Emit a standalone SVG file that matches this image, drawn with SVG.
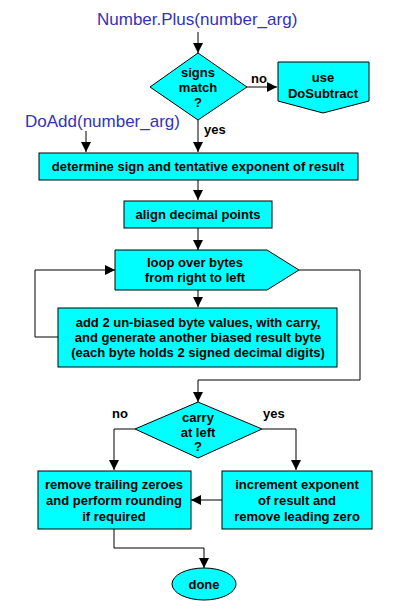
<svg xmlns="http://www.w3.org/2000/svg" width="400" height="610" viewBox="0 0 400 610">
<style>
.n{fill:#00ffff;stroke:#000;stroke-width:1}
.t{font-family:"Liberation Sans",Arial,sans-serif;font-weight:bold;font-size:13px;fill:#000;text-anchor:middle}
.l{font-family:"Liberation Sans",Arial,sans-serif;font-weight:bold;font-size:13px;fill:#000}
.e{font-family:"Liberation Sans",Arial,sans-serif;font-size:17px;fill:#3333bb}
.c{fill:none;stroke:#000;stroke-width:1}
</style>
<defs>
<marker id="a" viewBox="0 0 10 10" refX="10" refY="5" markerWidth="10" markerHeight="10" markerUnits="userSpaceOnUse" orient="auto">
<path d="M0,0L10,5L0,10z" fill="#000"/>
</marker>
</defs>
<rect width="400" height="610" fill="#fff"/>
<g id="entry1"><text class="e" x="97" y="25">Number.Plus(number_arg)</text></g>
<g id="entry2"><text class="e" x="25" y="127">DoAdd(number_arg)</text></g>
<g id="connectors">
<path class="c" d="M198,32V53" marker-end="url(#a)"/>
<path class="c" d="M247,87H277" marker-end="url(#a)"/>
<path class="c" d="M198,120V152" marker-end="url(#a)"/>
<path class="c" d="M86,131V152" marker-end="url(#a)"/>
<path class="c" d="M198,180V200" marker-end="url(#a)"/>
<path class="c" d="M198,228V250" marker-end="url(#a)"/>
<path class="c" d="M198,290V307" marker-end="url(#a)"/>
<path class="c" d="M58,337H35V270H115" marker-end="url(#a)"/>
<path class="c" d="M299,270H360V380H198V402" marker-end="url(#a)"/>
<path class="c" d="M135,429H114V470" marker-end="url(#a)"/>
<path class="c" d="M262,429H296V470" marker-end="url(#a)"/>
<path class="c" d="M222,500H191" marker-end="url(#a)"/>
<path class="c" d="M114,529V548H204V568" marker-end="url(#a)"/>
</g>
<g id="signs">
<polygon class="n" points="198,53 247,87 198,120 150,87"/>
<text class="t" x="198" y="77">signs</text>
<text class="t" x="198" y="92">match</text>
<text class="t" x="198" y="107">?</text>
</g>
<g id="labels">
<text class="l" x="251" y="83">no</text>
<text class="l" x="204" y="134">yes</text>
<text class="l" x="112" y="418">no</text>
<text class="l" x="263" y="418">yes</text>
</g>
<g id="subtract">
<polygon class="n" points="278,62 369,62 369,101 323,113 278,101"/>
<text class="t" x="323" y="82">use</text>
<text class="t" x="323" y="98">DoSubtract</text>
</g>
<g id="determine">
<rect class="n" x="39" y="153" width="319" height="27"/>
<text class="t" x="198" y="171">determine sign and tentative exponent of result</text>
</g>
<g id="align">
<rect class="n" x="124" y="201" width="148" height="27"/>
<text class="t" x="198" y="219">align decimal points</text>
</g>
<g id="loop">
<polygon class="n" points="115,250 267,250 299,270 267,290 115,290"/>
<text class="t" x="195" y="267">loop over bytes</text>
<text class="t" x="195" y="282">from right to left</text>
</g>
<g id="add">
<rect class="n" x="58" y="308" width="279" height="59"/>
<text class="t" x="198" y="327">add 2 un-biased byte values, with carry,</text>
<text class="t" x="198" y="342">and generate another biased result byte</text>
<text class="t" x="198" y="357">(each byte holds 2 signed decimal digits)</text>
</g>
<g id="carry">
<polygon class="n" points="198,402 262,429 198,458 135,429"/>
<text class="t" x="198" y="422">carry</text>
<text class="t" x="198" y="437">at left</text>
<text class="t" x="198" y="451">?</text>
</g>
<g id="remove">
<rect class="n" x="38" y="471" width="153" height="58"/>
<text class="t" x="114" y="489">remove trailing zeroes</text>
<text class="t" x="114" y="505">and perform rounding</text>
<text class="t" x="114" y="521">if required</text>
</g>
<g id="increment">
<rect class="n" x="222" y="471" width="150" height="58"/>
<text class="t" x="297" y="489">increment exponent</text>
<text class="t" x="297" y="505">of result and</text>
<text class="t" x="297" y="521">remove leading zero</text>
</g>
<g id="done">
<ellipse class="n" cx="204" cy="584" rx="32" ry="16"/>
<text class="t" x="204" y="589">done</text>
</g>
</svg>
